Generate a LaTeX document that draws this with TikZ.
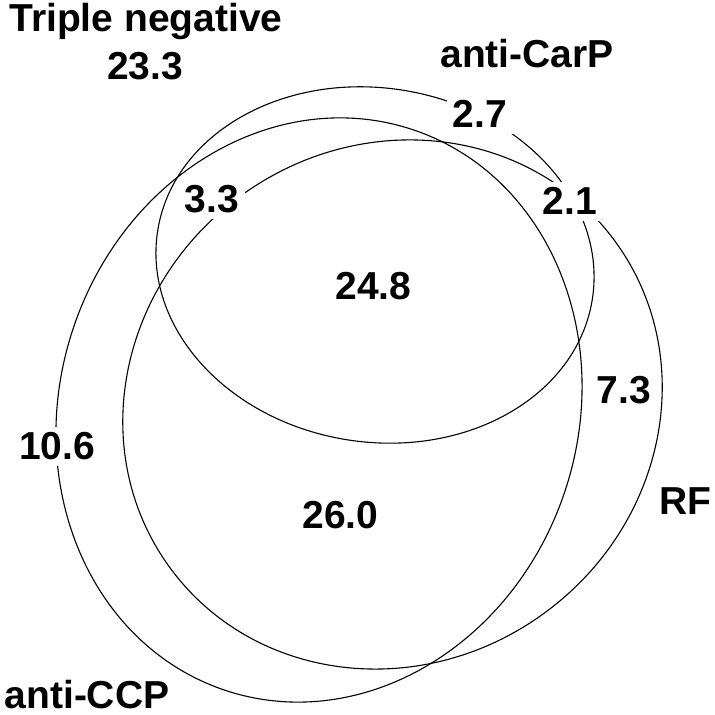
\documentclass[tikz,border=0pt]{standalone}
\usepackage{fontspec}
\setmainfont{Liberation Sans}

\begin{document}
\begin{tikzpicture}
    [
    x = 0.5pt, y = 0.5pt,
    every node/.style = {font=\fontsize{19.5}{23}\selectfont\bfseries, anchor=base},
    count/.style      = {fill=white, inner sep=3pt},
    setname/.style    = {inner sep=0pt},
    venn/.style       = {draw, line width=0.55pt}
    ]
    \useasboundingbox (0,0) rectangle (714,715);

    % the three sets
    \coordinate (carpc) at (375,450);
    \coordinate (ccpc)  at (319,305);
    \coordinate (rfc)   at (392.5,310.5);
    \path [venn] (carpc) ellipse [x radius=220, y radius=177, rotate=-9];
    \path [venn] (ccpc)  ellipse [x radius=295.6, y radius=259, rotate=71.3];
    \path [venn] (rfc)   ellipse [x radius=276, y radius=258, rotate=36.7];

    % set names
    \node [setname] (tn)   at (146,683) {Triple negative};
    \node [setname] (carp) at (527,647) {anti-CarP};
    \node [setname] (rf)   at (685,200) {RF};
    \node [setname] (ccp)  at (87,6)    {anti-CCP};

    % region values
    \node [count] (v233) at (145,635)   {23.3};
    \node [count] (v27)  at (480,587)   {2.7};
    \node [count] (v21)  at (570,500)   {2.1};
    \node [count] (v33)  at (212,502)   {3.3};
    \node [count] (v248) at (373.5,415) {24.8};
    \node [count] (v73)  at (624,311)   {7.3};
    \node [count] (v106) at (57,255)    {10.6};
    \node [count] (v260) at (340.5,186) {26.0};
\end{tikzpicture}
\end{document}
